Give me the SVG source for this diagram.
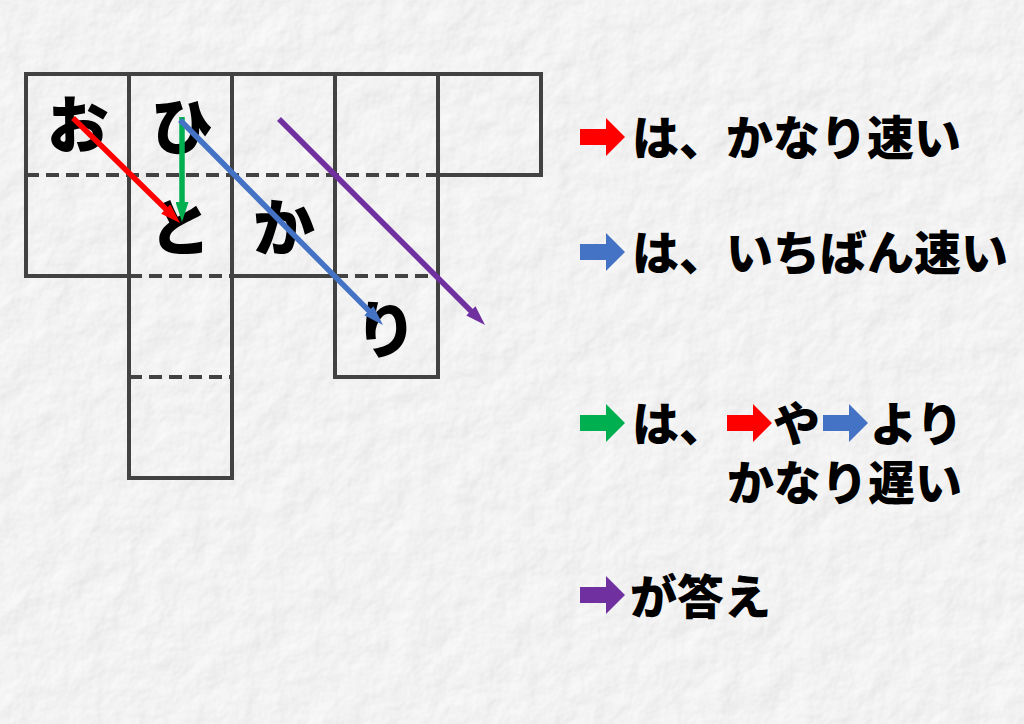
<svg xmlns="http://www.w3.org/2000/svg" xmlns:xlink="http://www.w3.org/1999/xlink" width="1024" height="724" viewBox="0 0 1024 724">
<defs>
<style>
.g{stroke:#424242;stroke-width:4;fill:none;stroke-linecap:square}
.d{stroke:#424242;stroke-width:4;fill:none;stroke-dasharray:13 7}
.ch{font-family:"Noto Sans CJK JP","Noto Sans CJK SC",sans-serif;font-weight:900;font-size:62px;fill:#000;text-anchor:middle}
.lg{font-family:"Noto Sans CJK JP","Noto Sans CJK SC",sans-serif;font-weight:900;font-size:47px;fill:#000}
.ar{stroke-width:5.5;fill:none}
</style>
<filter id="paper" x="0" y="0" width="100%" height="100%">
<feTurbulence type="fractalNoise" baseFrequency="0.03" numOctaves="4" seed="7" result="n"/>
<feDiffuseLighting in="n" surfaceScale="3" lighting-color="#ffffff" result="l">
<feDistantLight azimuth="225" elevation="50"/>
</feDiffuseLighting>
<feColorMatrix type="matrix" values="0.35 0 0 0 0.62  0.35 0 0 0 0.62  0.35 0 0 0 0.62  0 0 0 0 1"/>
</filter>
<marker id="mr" markerUnits="userSpaceOnUse" markerWidth="20" markerHeight="13" refX="4" refY="6.5" orient="auto"><path d="M0,0 L20,6.5 L0,13 z" fill="#ff0000"/></marker>
<marker id="mg" markerUnits="userSpaceOnUse" markerWidth="20" markerHeight="13" refX="4" refY="6.5" orient="auto"><path d="M0,0 L20,6.5 L0,13 z" fill="#00b050"/></marker>
<marker id="mb" markerUnits="userSpaceOnUse" markerWidth="20" markerHeight="13" refX="4" refY="6.5" orient="auto"><path d="M0,0 L20,6.5 L0,13 z" fill="#4472c4"/></marker>
<marker id="mp" markerUnits="userSpaceOnUse" markerWidth="20" markerHeight="13" refX="4" refY="6.5" orient="auto"><path d="M0,0 L20,6.5 L0,13 z" fill="#7030a0"/></marker>
<path id="blk" d="M0,-8 L26,-8 L26,-19 L45,0 L26,19 L26,8 L0,8 z"/>
</defs>
<rect width="1024" height="724" fill="#e9e9e9"/>
<rect width="1024" height="724" filter="url(#paper)"/>

<g id="grid">
<path class="g" d="M26,74 H541 V175 H438 M26,74 V276 H129 M129,74 V478 H232 V74 M232,276 H335 M335,74 V377 H438 V74"/>
<path class="d" d="M26,175 H438 M129,276 H232 M335,276 H438 M129,377 H232"/>
</g>

<g id="cell-o"><text class="ch" x="78" y="148">お</text></g>
<g id="cell-hi"><text class="ch" x="182" y="150">ひ</text></g>
<g id="cell-to"><text class="ch" x="180" y="251">と</text></g>
<g id="cell-ka"><text class="ch" x="284" y="251">か</text></g>
<g id="cell-ri"><text class="ch" x="386" y="353">り</text></g>

<g id="connectors">
<line class="ar" x1="73" y1="118" x2="168.6" y2="211.8" stroke="#ff0000" marker-end="url(#mr)"/>
<line class="ar" x1="182" y1="117" x2="182" y2="206" stroke="#00b050" marker-end="url(#mg)"/>
<line class="ar" x1="180" y1="120" x2="371.7" y2="313.6" stroke="#4472c4" marker-end="url(#mb)"/>
<line class="ar" x1="279" y1="119" x2="473.7" y2="313.7" stroke="#7030a0" marker-end="url(#mp)"/>
</g>

<g id="legend-red">
<use xlink:href="#blk" href="#blk" transform="translate(580,137)" fill="#ff0000"/>
<text class="lg" x="632" y="155">は、かなり速い</text>
</g>
<g id="legend-blue">
<use xlink:href="#blk" href="#blk" transform="translate(580,252)" fill="#4472c4"/>
<text class="lg" x="632" y="270">は、いちばん速い</text>
</g>
<g id="legend-green">
<use xlink:href="#blk" href="#blk" transform="translate(580,423)" fill="#00b050"/>
<use xlink:href="#blk" href="#blk" transform="translate(727,423)" fill="#ff0000"/>
<use xlink:href="#blk" href="#blk" transform="translate(823,423)" fill="#4472c4"/>
<text class="lg"><tspan x="632" y="441">は、</tspan><tspan x="773" y="441">や</tspan><tspan x="870" y="441">より</tspan><tspan x="727" y="500">かなり遅い</tspan></text>
</g>
<g id="legend-purple">
<use xlink:href="#blk" href="#blk" transform="translate(580,595)" fill="#7030a0"/>
<text class="lg" x="630" y="614">が答え</text>
</g>
</svg>
